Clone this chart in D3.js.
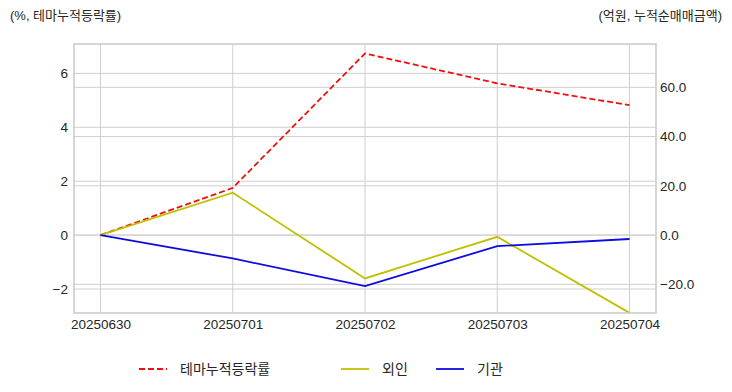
<!DOCTYPE html>
<html><head><meta charset="utf-8">
<script src="https://cdn.jsdelivr.net/npm/d3@7"></script>
<style>
html,body{margin:0;padding:0;background:#fff;}
svg text{font-family:"Liberation Sans","Noto Sans CJK KR",sans-serif;}
</style></head>
<body><svg id="c" width="732" height="392"></svg>
<script>
const dates = ["20250630","20250701","20250702","20250703","20250704"];
const themeRate = [0, 1.75, 6.74, 5.63, 4.82];
const foreign = [0, 17.2, -17.6, -0.7, -31.6];
const institution = [0, -9.5, -20.7, -4.5, -1.6];
const leftTicks = [-2, 0, 2, 4, 6];
const rightTicks = [-20, 0, 20, 40, 60];
const seriesNames = ["테마누적등락률", "외인", "기관"];
const colors = ["#ee1010", "#c0c000", "#0c0ce0"];

const svg = d3.select("#c");
const L = 74, R = 656, T = 44, B = 313;
const x = d3.scaleLinear().domain([-0.2, dates.length - 1 + 0.2]).range([L, R]);
const yL = d3.scaleLinear().domain([-2.89, 7.09]).range([B, T]);
const yR = d3.scaleLinear().domain([-31.65, 77.6]).range([B, T]);
const gridColor = "#cfcfcf";

const g = svg.append("g");
g.selectAll(".vg").data(dates).enter().append("line")
  .attr("x1", (d,i)=>x(i)).attr("x2", (d,i)=>x(i)).attr("y1", T).attr("y2", B)
  .attr("stroke", gridColor).attr("stroke-width", 1);
g.selectAll(".lg").data(leftTicks).enter().append("line")
  .attr("x1", L).attr("x2", R).attr("y1", d=>yL(d)).attr("y2", d=>yL(d))
  .attr("stroke", gridColor).attr("stroke-width", 1);
g.selectAll(".rg").data(rightTicks).enter().append("line")
  .attr("x1", L).attr("x2", R).attr("y1", d=>yR(d)).attr("y2", d=>yR(d))
  .attr("stroke", gridColor).attr("stroke-width", 1);

const lineL = d3.line().x((d,i)=>x(i)).y(d=>yL(d));
const lineR = d3.line().x((d,i)=>x(i)).y(d=>yR(d));

g.append("path").attr("d", lineL(themeRate)).attr("fill","none")
  .attr("stroke", colors[0]).attr("stroke-width", 1.8).attr("stroke-dasharray","6,3");
g.append("path").attr("d", lineR(foreign)).attr("fill","none")
  .attr("stroke", colors[1]).attr("stroke-width", 1.8);
g.append("path").attr("d", lineR(institution)).attr("fill","none")
  .attr("stroke", colors[2]).attr("stroke-width", 1.8);

g.append("rect").attr("x", L).attr("y", T).attr("width", R-L).attr("height", B-T)
  .attr("fill","none").attr("stroke", "#cccccc").attr("stroke-width", 1.6);

const axL = d3.axisLeft(yL).tickValues(leftTicks).tickSize(0).tickPadding(6).tickFormat(d3.format("d"));
const axR = d3.axisRight(yR).tickValues(rightTicks).tickSize(0).tickPadding(4).tickFormat(d3.format(".1f"));
const axB = d3.axisBottom(x).tickValues(d3.range(dates.length)).tickSize(0).tickPadding(6).tickFormat(i=>dates[i]);
function style(sel){ sel.select(".domain").remove(); sel.selectAll("text").attr("fill","#262626").style("font-size","13.5px"); }
svg.append("g").attr("transform",`translate(${L},0)`).call(axL).call(style);
svg.append("g").attr("transform",`translate(${R},0)`).call(axR).call(style);
svg.append("g").attr("transform",`translate(0,${B})`).call(axB).call(style);

svg.append("text").attr("x", 10).attr("y", 20).text("(%, 테마누적등락률)")
  .attr("fill","#262626").style("font-size","13px");
svg.append("text").attr("x", 722).attr("y", 20).attr("text-anchor","end").text("(억원, 누적순매매금액)")
  .attr("fill","#262626").style("font-size","13px");

const legX = [139, 341, 436];
const leg = svg.append("g");
seriesNames.forEach((n,i)=>{
  leg.append("line").attr("x1", legX[i]).attr("x2", legX[i]+28).attr("y1", 369).attr("y2", 369)
    .attr("stroke", colors[i]).attr("stroke-width", 1.8)
    .attr("stroke-dasharray", i===0 ? "6,3" : null);
  leg.append("text").attr("x", legX[i]+41).attr("y", 374).text(n)
    .attr("fill","#262626").style("font-size","14px");
});
</script></body></html>
